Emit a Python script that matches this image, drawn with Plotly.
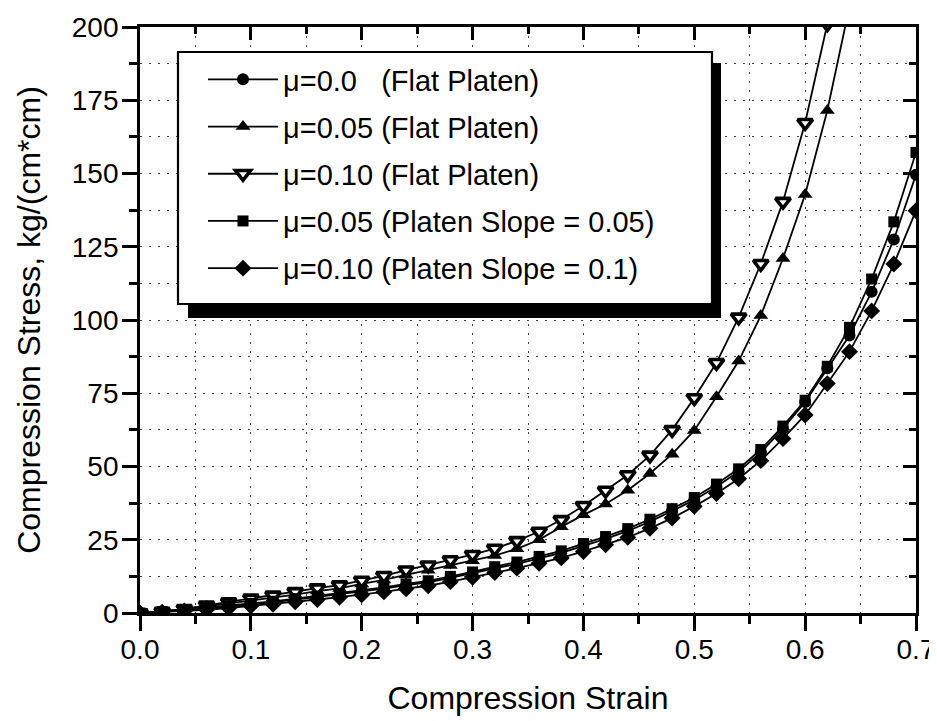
import plotly.graph_objects as go

strain = [0.00, 0.02, 0.04, 0.06, 0.08, 0.10, 0.12, 0.14, 0.16, 0.18, 0.20, 0.22,
          0.24, 0.26, 0.28, 0.30, 0.32, 0.34, 0.36, 0.38, 0.40, 0.42, 0.44, 0.46,
          0.48, 0.50, 0.52, 0.54, 0.56, 0.58, 0.60, 0.62, 0.64, 0.66, 0.68, 0.70]

# mu=0.0 (Flat Platen) - circles
mu00_flat = [0.0, 0.4, 1.0, 1.5, 2.2, 3.0, 3.7, 4.6, 5.5, 6.4, 7.2, 8.3,
             9.5, 10.5, 12.0, 13.5, 15.2, 16.8, 18.6, 20.5, 22.9, 25.3, 28.0, 31.2,
             34.8, 38.6, 43.1, 48.3, 54.8, 62.9, 72.0, 83.5, 94.7, 109.6, 127.5, 149.6]

# mu=0.05 (Flat Platen) - filled up triangles
mu05_flat = [0.0, 0.4, 1.2, 2.2, 3.2, 4.3, 5.2, 6.3, 7.5, 8.4, 9.9, 11.3,
             13.0, 14.6, 16.2, 17.8, 19.6, 21.9, 25.0, 29.4, 33.5, 37.2, 41.9, 47.6,
             54.2, 62.3, 73.8, 86.0, 101.5, 121.0, 142.8, 171.5, 207.0]

# mu=0.10 (Flat Platen) - open down triangles
mu10_flat = [0.0, 0.5, 1.4, 2.6, 3.7, 5.0, 6.0, 7.2, 8.5, 9.5, 11.1, 12.7,
             14.6, 16.3, 18.1, 19.9, 22.0, 24.6, 27.8, 31.8, 36.6, 41.8, 47.1, 53.8,
             62.5, 73.4, 85.4, 100.9, 119.2, 140.4, 167.3, 201.0]

# mu=0.05 (Platen Slope = 0.05) - squares
mu05_slope = [0.0, 0.5, 1.2, 1.8, 2.5, 3.3, 4.0, 4.9, 5.8, 6.7, 7.6, 8.7,
              9.9, 11.0, 12.5, 14.0, 15.8, 17.4, 19.3, 21.2, 23.7, 26.1, 28.8, 32.0,
              35.6, 39.4, 44.0, 49.2, 55.8, 63.8, 72.6, 84.2, 97.5, 114.0, 133.5, 157.2]

# mu=0.10 (Platen Slope = 0.1) - diamonds
mu10_slope = [0.0, 0.3, 0.7, 1.1, 1.7, 2.4, 3.0, 3.8, 4.6, 5.4, 6.2, 7.2,
              8.3, 9.3, 10.7, 12.2, 13.8, 15.3, 17.0, 18.8, 21.0, 23.3, 25.8, 28.9,
              32.4, 36.4, 40.8, 45.8, 52.0, 59.5, 67.6, 78.3, 89.2, 103.1, 119.1, 137.3]

names = ["\u03bc=0.0\u00a0\u00a0\u00a0(Flat Platen)",
         "\u03bc=0.05 (Flat Platen)",
         "\u03bc=0.10 (Flat Platen)",
         "\u03bc=0.05 (Platen Slope = 0.05)",
         "\u03bc=0.10 (Platen Slope = 0.1)"]

FONT = "Liberation Sans, Arial, sans-serif"

series = [
    (mu00_flat, "circle", "black", 12),
    (mu05_flat, "triangle-up", "black", 13),
    (mu10_flat, "triangle-down", "white", 13),
    (mu05_slope, "square", "black", 11),
    (mu10_slope, "diamond", "black", 13),
]

# the page body adds an 8px offset; design in page pixels, convert to figure pixels
OFF = 8
FIG_W, FIG_H = 937 - OFF, 721 - OFF
L, R, T, B = 140 - OFF, 916 - OFF, 27 - OFF, 613 - OFF
W, H = R - L, B - T


def px(x):
    return (x - OFF - L) / W


def py(y):
    return (B - (y - OFF)) / H


fig = go.Figure()
for i, (vals, sym, fill, size) in enumerate(series):
    fig.add_trace(go.Scatter(
        x=strain[:len(vals)], y=vals, name=names[i],
        mode="lines+markers", legendgroup=f"g{i}",
        line=dict(color="black", width=1.8),
        marker=dict(symbol=sym, size=size, color=fill,
                    line=dict(color="black", width=3.6 if fill == "white" else 0)),
    ))

fig.add_trace(go.Scatter(x=[None], y=[None], xaxis="x2", yaxis="y2",
                         showlegend=False, hoverinfo="skip"))

GRID = dict(showgrid=True, gridcolor="#444", gridwidth=1.4, griddash="2px,7px")

axis_common = dict(
    showline=True, linecolor="black", linewidth=2.8,
    ticks="outside", ticklen=15, tickwidth=2.8, tickcolor="black",
    zeroline=False, automargin=False,
    tickfont=dict(family=FONT, size=28, color="black"),
    **GRID,
)

fig.update_layout(
    width=FIG_W, height=FIG_H,
    paper_bgcolor="white", plot_bgcolor="white",
    margin=dict(l=L, r=FIG_W - R, t=T, b=FIG_H - B),
    font=dict(family=FONT, color="black"),
    xaxis=dict(range=[0, 0.7], dtick=0.1, tick0=0, tickformat=".1f",
               ticklabelstandoff=-6,
               title=dict(text="Compression Strain", standoff=24,
                          font=dict(family=FONT, size=32, color="black")),
               minor=dict(dtick=0.05, ticks="outside", ticklen=8, tickwidth=2.5,
                          tickcolor="black", **GRID),
               **axis_common),
    yaxis=dict(range=[0, 200], dtick=25, tick0=0,
               ticklabelstandoff=-2,
               title=dict(text="Compression Stress, kg/(cm*cm)", standoff=22,
                          font=dict(family=FONT, size=32, color="black")),
               minor=dict(dtick=12.5, ticks="outside", ticklen=8, tickwidth=2.5,
                          tickcolor="black", **GRID),
               **axis_common),
    xaxis2=dict(overlaying="x", side="top", range=[0, 0.7], dtick=0.1,
                showticklabels=False, showgrid=False, zeroline=False,
                showline=True, linecolor="black", linewidth=2.8,
                ticks="inside", ticklen=13, tickwidth=2.8, tickcolor="black",
                minor=dict(dtick=0.05, ticks="inside", ticklen=7, tickwidth=2.5,
                           tickcolor="black")),
    yaxis2=dict(overlaying="y", side="right", range=[0, 200], dtick=25,
                showticklabels=False, showgrid=False, zeroline=False,
                showline=True, linecolor="black", linewidth=2.8,
                ticks="inside", ticklen=13, tickwidth=2.8, tickcolor="black",
                minor=dict(dtick=12.5, ticks="inside", ticklen=7, tickwidth=2.5,
                           tickcolor="black")),
    legend=dict(x=px(203), y=py(54), xanchor="left", yanchor="top",
                bgcolor="rgba(0,0,0,0)", borderwidth=0,
                font=dict(family=FONT, size=29, color="black"),
                traceorder="grouped", tracegroupgap=6.5, itemwidth=70),
    showlegend=True,
)

# legend drop shadow and frame
fig.add_shape(type="rect", xref="paper", yref="paper",
              x0=px(188), x1=px(721), y0=py(318), y1=py(63),
              fillcolor="black", line=dict(width=0), layer="above")
fig.add_shape(type="rect", xref="paper", yref="paper",
              x0=px(178), x1=px(712), y0=py(304), y1=py(52),
              fillcolor="white", line=dict(color="black", width=2.2), layer="above")

fig.write_html("out.html")
